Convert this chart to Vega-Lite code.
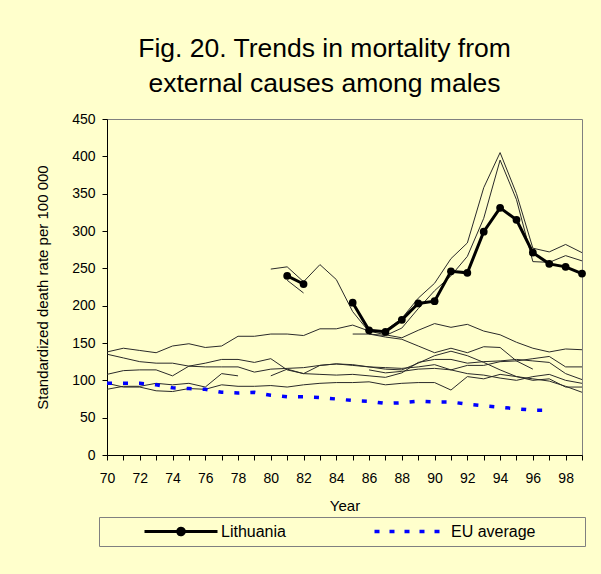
{
  "$schema": "https://vega.github.io/schema/vega-lite/v6.json",
  "width": 475,
  "height": 336,
  "autosize": "none",
  "padding": {"left": 107, "top": 119, "right": 19, "bottom": 119},
  "background": "#FFFFCC",
  "config": {
    "font": "Liberation Sans",
    "view": {"stroke": "#808080", "strokeWidth": 1},
    "axis": {
      "grid": false,
      "domainColor": "black",
      "tickColor": "black",
      "labelColor": "black",
      "titleColor": "black",
      "labelFont": "Liberation Sans",
      "titleFont": "Liberation Sans",
      "titleFontWeight": "normal",
      "labelFontSize": 14,
      "titleFontSize": 15,
      "tickSize": 5,
      "labelFlush": false,
      "labelOverlap": false
    }
  },
  "title": {
    "text": ["Fig. 20. Trends in mortality from", "external causes among males"],
    "fontSize": 26.5,
    "fontWeight": "normal",
    "font": "Liberation Sans",
    "color": "black",
    "anchor": "middle",
    "frame": "group",
    "dx": -20,
    "offset": 15,
    "lineHeight": 35
  },
  "datasets": {
    "others": [
      {"c": "A", "year": 70, "rate": 138}, {"c": "A", "year": 71, "rate": 143}, {"c": "A", "year": 72, "rate": 140}, {"c": "A", "year": 73, "rate": 137}, {"c": "A", "year": 74, "rate": 146}, {"c": "A", "year": 75, "rate": 149}, {"c": "A", "year": 76, "rate": 144}, {"c": "A", "year": 77, "rate": 146}, {"c": "A", "year": 78, "rate": 159}, {"c": "A", "year": 79, "rate": 159}, {"c": "A", "year": 80, "rate": 162}, {"c": "A", "year": 81, "rate": 162}, {"c": "A", "year": 82, "rate": 160}, {"c": "A", "year": 83, "rate": 169}, {"c": "A", "year": 84, "rate": 169}, {"c": "A", "year": 85, "rate": 174}, {"c": "A", "year": 86, "rate": 166}, {"c": "A", "year": 87, "rate": 161}, {"c": "A", "year": 88, "rate": 157}, {"c": "A", "year": 89, "rate": 167}, {"c": "A", "year": 90, "rate": 176}, {"c": "A", "year": 91, "rate": 171}, {"c": "A", "year": 92, "rate": 175}, {"c": "A", "year": 93, "rate": 166}, {"c": "A", "year": 94, "rate": 161}, {"c": "A", "year": 95, "rate": 151}, {"c": "A", "year": 96, "rate": 143}, {"c": "A", "year": 97, "rate": 138}, {"c": "A", "year": 98, "rate": 142}, {"c": "A", "year": 99, "rate": 141},
      {"c": "B", "year": 70, "rate": 135}, {"c": "B", "year": 71, "rate": 130}, {"c": "B", "year": 72, "rate": 125}, {"c": "B", "year": 73, "rate": 123}, {"c": "B", "year": 74, "rate": 123}, {"c": "B", "year": 75, "rate": 119}, {"c": "B", "year": 76, "rate": 118}, {"c": "B", "year": 77, "rate": 118}, {"c": "B", "year": 78, "rate": 118}, {"c": "B", "year": 79, "rate": 111}, {"c": "B", "year": 80, "rate": 115}, {"c": "B", "year": 81, "rate": 116}, {"c": "B", "year": 82, "rate": 117}, {"c": "B", "year": 83, "rate": 120}, {"c": "B", "year": 84, "rate": 122}, {"c": "B", "year": 85, "rate": 120}, {"c": "B", "year": 86, "rate": 118}, {"c": "B", "year": 87, "rate": 115}, {"c": "B", "year": 88, "rate": 114}, {"c": "B", "year": 89, "rate": 123}, {"c": "B", "year": 90, "rate": 133}, {"c": "B", "year": 91, "rate": 139}, {"c": "B", "year": 92, "rate": 133}, {"c": "B", "year": 93, "rate": 124}, {"c": "B", "year": 94, "rate": 114}, {"c": "B", "year": 95, "rate": 105}, {"c": "B", "year": 96, "rate": 102}, {"c": "B", "year": 97, "rate": 99}, {"c": "B", "year": 98, "rate": 92}, {"c": "B", "year": 99, "rate": 84},
      {"c": "C", "year": 70, "rate": 108}, {"c": "C", "year": 71, "rate": 113}, {"c": "C", "year": 72, "rate": 114}, {"c": "C", "year": 73, "rate": 114}, {"c": "C", "year": 74, "rate": 106}, {"c": "C", "year": 75, "rate": 119}, {"c": "C", "year": 76, "rate": 123}, {"c": "C", "year": 77, "rate": 128}, {"c": "C", "year": 78, "rate": 128}, {"c": "C", "year": 79, "rate": 124}, {"c": "C", "year": 80, "rate": 129}, {"c": "C", "year": 81, "rate": 114}, {"c": "C", "year": 82, "rate": 109}, {"c": "C", "year": 83, "rate": 108}, {"c": "C", "year": 84, "rate": 107}, {"c": "C", "year": 85, "rate": 108}, {"c": "C", "year": 86, "rate": 106}, {"c": "C", "year": 87, "rate": 104}, {"c": "C", "year": 88, "rate": 110}, {"c": "C", "year": 89, "rate": 124}, {"c": "C", "year": 90, "rate": 128}, {"c": "C", "year": 91, "rate": 128}, {"c": "C", "year": 92, "rate": 123}, {"c": "C", "year": 93, "rate": 125}, {"c": "C", "year": 94, "rate": 126}, {"c": "C", "year": 95, "rate": 128}, {"c": "C", "year": 96, "rate": 126}, {"c": "C", "year": 97, "rate": 124}, {"c": "C", "year": 98, "rate": 109}, {"c": "C", "year": 99, "rate": 101},
      {"c": "G", "year": 80, "rate": 106}, {"c": "G", "year": 81, "rate": 115}, {"c": "G", "year": 82, "rate": 109}, {"c": "G", "year": 83, "rate": 120}, {"c": "G", "year": 84, "rate": 122}, {"c": "G", "year": 85, "rate": 121}, {"c": "G", "year": 86, "rate": 118}, {"c": "G", "year": 87, "rate": 117}, {"c": "G", "year": 88, "rate": 116}, {"c": "G", "year": 89, "rate": 118}, {"c": "G", "year": 90, "rate": 121}, {"c": "G", "year": 91, "rate": 114}, {"c": "G", "year": 92, "rate": 120}, {"c": "G", "year": 93, "rate": 120}, {"c": "G", "year": 94, "rate": 125}, {"c": "G", "year": 95, "rate": 126}, {"c": "G", "year": 96, "rate": 129}, {"c": "G", "year": 97, "rate": 132}, {"c": "G", "year": 98, "rate": 118}, {"c": "G", "year": 99, "rate": 118},
      {"c": "H", "year": 86, "rate": 114}, {"c": "H", "year": 87, "rate": 110}, {"c": "H", "year": 88, "rate": 112}, {"c": "H", "year": 89, "rate": 115}, {"c": "H", "year": 90, "rate": 116}, {"c": "H", "year": 91, "rate": 114}, {"c": "H", "year": 92, "rate": 109}, {"c": "H", "year": 93, "rate": 107}, {"c": "H", "year": 94, "rate": 103}, {"c": "H", "year": 95, "rate": 100}, {"c": "H", "year": 96, "rate": 105}, {"c": "H", "year": 97, "rate": 108}, {"c": "H", "year": 98, "rate": 100}, {"c": "H", "year": 99, "rate": 96},
      {"c": "E", "year": 70, "rate": 88}, {"c": "E", "year": 71, "rate": 92}, {"c": "E", "year": 72, "rate": 92}, {"c": "E", "year": 73, "rate": 96}, {"c": "E", "year": 74, "rate": 94}, {"c": "E", "year": 75, "rate": 96}, {"c": "E", "year": 76, "rate": 91}, {"c": "E", "year": 77, "rate": 109}, {"c": "E", "year": 78, "rate": 106},
      {"c": "F", "year": 70, "rate": 96}, {"c": "F", "year": 71, "rate": 91}, {"c": "F", "year": 72, "rate": 91}, {"c": "F", "year": 73, "rate": 86}, {"c": "F", "year": 74, "rate": 85}, {"c": "F", "year": 75, "rate": 89}, {"c": "F", "year": 76, "rate": 88}, {"c": "F", "year": 77, "rate": 94}, {"c": "F", "year": 78, "rate": 92}, {"c": "F", "year": 79, "rate": 92}, {"c": "F", "year": 80, "rate": 93}, {"c": "F", "year": 81, "rate": 91}, {"c": "F", "year": 82, "rate": 94}, {"c": "F", "year": 83, "rate": 96}, {"c": "F", "year": 84, "rate": 97}, {"c": "F", "year": 85, "rate": 97}, {"c": "F", "year": 86, "rate": 98}, {"c": "F", "year": 87, "rate": 94}, {"c": "F", "year": 88, "rate": 96}, {"c": "F", "year": 89, "rate": 97}, {"c": "F", "year": 90, "rate": 97}, {"c": "F", "year": 91, "rate": 87}, {"c": "F", "year": 92, "rate": 105}, {"c": "F", "year": 93, "rate": 102}, {"c": "F", "year": 94, "rate": 108}, {"c": "F", "year": 95, "rate": 105}, {"c": "F", "year": 96, "rate": 100}, {"c": "F", "year": 97, "rate": 102}, {"c": "F", "year": 98, "rate": 91}, {"c": "F", "year": 99, "rate": 91},
      {"c": "S1", "year": 80, "rate": 249}, {"c": "S1", "year": 81, "rate": 252}, {"c": "S1", "year": 82, "rate": 232}, {"c": "S1", "year": 83, "rate": 255}, {"c": "S1", "year": 84, "rate": 235}, {"c": "S1", "year": 85, "rate": 192}, {"c": "S1", "year": 86, "rate": 165}, {"c": "S1", "year": 87, "rate": 167}, {"c": "S1", "year": 88, "rate": 183}, {"c": "S1", "year": 89, "rate": 210}, {"c": "S1", "year": 90, "rate": 230}, {"c": "S1", "year": 91, "rate": 263}, {"c": "S1", "year": 92, "rate": 284}, {"c": "S1", "year": 93, "rate": 358}, {"c": "S1", "year": 94, "rate": 405}, {"c": "S1", "year": 95, "rate": 350}, {"c": "S1", "year": 96, "rate": 277}, {"c": "S1", "year": 97, "rate": 272}, {"c": "S1", "year": 98, "rate": 282}, {"c": "S1", "year": 99, "rate": 271},
      {"c": "S2", "year": 81, "rate": 234}, {"c": "S2", "year": 82, "rate": 217},
      {"c": "S3", "year": 86, "rate": 162}, {"c": "S3", "year": 87, "rate": 160}, {"c": "S3", "year": 88, "rate": 170}, {"c": "S3", "year": 89, "rate": 196}, {"c": "S3", "year": 90, "rate": 220}, {"c": "S3", "year": 91, "rate": 240}, {"c": "S3", "year": 92, "rate": 266}, {"c": "S3", "year": 93, "rate": 317}, {"c": "S3", "year": 94, "rate": 395}, {"c": "S3", "year": 95, "rate": 342}, {"c": "S3", "year": 96, "rate": 259}, {"c": "S3", "year": 97, "rate": 258}, {"c": "S3", "year": 98, "rate": 267}, {"c": "S3", "year": 99, "rate": 260},
      {"c": "S5", "year": 85, "rate": 162}, {"c": "S5", "year": 86, "rate": 162}, {"c": "S5", "year": 87, "rate": 158}, {"c": "S5", "year": 88, "rate": 155}, {"c": "S5", "year": 89, "rate": 146}, {"c": "S5", "year": 90, "rate": 137}, {"c": "S5", "year": 91, "rate": 143}, {"c": "S5", "year": 92, "rate": 137}, {"c": "S5", "year": 93, "rate": 145}, {"c": "S5", "year": 94, "rate": 144}, {"c": "S5", "year": 95, "rate": 126}, {"c": "S5", "year": 96, "rate": 115}
    ],
    "lithuania": [
      {"series": "Lithuania", "part": "a", "year": 81, "rate": 240}, {"series": "Lithuania", "part": "a", "year": 82, "rate": 229},
      {"series": "Lithuania", "part": "b", "year": 85, "rate": 204}, {"series": "Lithuania", "part": "b", "year": 86, "rate": 167}, {"series": "Lithuania", "part": "b", "year": 87, "rate": 165}, {"series": "Lithuania", "part": "b", "year": 88, "rate": 181}, {"series": "Lithuania", "part": "b", "year": 89, "rate": 203}, {"series": "Lithuania", "part": "b", "year": 90, "rate": 206}, {"series": "Lithuania", "part": "b", "year": 91, "rate": 246}, {"series": "Lithuania", "part": "b", "year": 92, "rate": 244}, {"series": "Lithuania", "part": "b", "year": 93, "rate": 299}, {"series": "Lithuania", "part": "b", "year": 94, "rate": 331}, {"series": "Lithuania", "part": "b", "year": 95, "rate": 315}, {"series": "Lithuania", "part": "b", "year": 96, "rate": 271}, {"series": "Lithuania", "part": "b", "year": 97, "rate": 256}, {"series": "Lithuania", "part": "b", "year": 98, "rate": 252}, {"series": "Lithuania", "part": "b", "year": 99, "rate": 243}
    ],
    "eu": [
      {"series": "EU average", "year": 70, "rate": 96}, {"series": "EU average", "year": 71, "rate": 96}, {"series": "EU average", "year": 72, "rate": 96}, {"series": "EU average", "year": 73, "rate": 94}, {"series": "EU average", "year": 74, "rate": 90}, {"series": "EU average", "year": 75, "rate": 89}, {"series": "EU average", "year": 76, "rate": 88}, {"series": "EU average", "year": 77, "rate": 84}, {"series": "EU average", "year": 78, "rate": 83}, {"series": "EU average", "year": 79, "rate": 84}, {"series": "EU average", "year": 80, "rate": 80}, {"series": "EU average", "year": 81, "rate": 78}, {"series": "EU average", "year": 82, "rate": 78}, {"series": "EU average", "year": 83, "rate": 77}, {"series": "EU average", "year": 84, "rate": 75}, {"series": "EU average", "year": 85, "rate": 73}, {"series": "EU average", "year": 86, "rate": 72}, {"series": "EU average", "year": 87, "rate": 69}, {"series": "EU average", "year": 88, "rate": 70}, {"series": "EU average", "year": 89, "rate": 72}, {"series": "EU average", "year": 90, "rate": 71}, {"series": "EU average", "year": 91, "rate": 71}, {"series": "EU average", "year": 92, "rate": 68}, {"series": "EU average", "year": 93, "rate": 66}, {"series": "EU average", "year": 94, "rate": 64}, {"series": "EU average", "year": 95, "rate": 62}, {"series": "EU average", "year": 96, "rate": 60}, {"series": "EU average", "year": 97, "rate": 60}
    ]
  },
  "encoding": {
    "x": {
      "field": "year",
      "type": "quantitative",
      "scale": {"domain": [70, 99], "nice": false, "zero": false},
      "axis": {
        "title": "Year",
        "values": [70, 71, 72, 73, 74, 75, 76, 77, 78, 79, 80, 81, 82, 83, 84, 85, 86, 87, 88, 89, 90, 91, 92, 93, 94, 95, 96, 97, 98, 99],
        "labelExpr": "datum.value % 2 === 0 ? datum.label : ''",
        "labelPadding": 11,
        "titlePadding": 13
      }
    },
    "y": {
      "field": "rate",
      "type": "quantitative",
      "scale": {"domain": [0, 450], "nice": false},
      "axis": {
        "title": "Standardized death rate per 100 000",
        "values": [0, 50, 100, 150, 200, 250, 300, 350, 400, 450],
        "labelPadding": 7,
        "titlePadding": 21
      }
    }
  },
  "layer": [
    {
      "data": {"name": "others"},
      "mark": {"type": "line", "strokeWidth": 1, "color": "#2a2a2a"},
      "encoding": {"detail": {"field": "c"}}
    },
    {
      "data": {"name": "eu"},
      "mark": {"type": "line", "strokeWidth": 3.5, "strokeDash": [5, 11], "strokeCap": "butt"},
      "encoding": {
        "color": {
          "field": "series",
          "type": "nominal",
          "scale": {"domain": ["Lithuania", "EU average"], "range": ["black", "#0000FF"]},
          "legend": {
            "orient": "none",
            "legendX": -8,
            "legendY": 398,
            "direction": "horizontal",
            "title": " ",
            "titleOrient": "right",
            "titlePadding": 45,
            "padding": 5,
            "strokeColor": "#808080",
            "fillColor": "#FFFFCC",
            "symbolType": "stroke",
            "symbolSize": 5329,
            "symbolStrokeWidth": 3,
            "symbolOffset": 69,
            "clipHeight": 19,
            "labelFont": "Liberation Sans",
            "labelFontSize": 16,
            "labelColor": "black",
            "labelOffset": 32,
            "columnPadding": 48,
            "encode": {
              "symbols": {
                "update": {
                  "shape": {"signal": "datum.value === 'Lithuania' ? 'M-1,0L1,0M0.09,0A0.09,0.09,0,1,1,-0.09,0A0.09,0.09,0,1,1,0.09,0Z' : 'stroke'"},
                  "fill": {"signal": "datum.value === 'Lithuania' ? 'black' : 'transparent'"},
                  "stroke": {"signal": "datum.value === 'Lithuania' ? 'black' : '#0000FF'"},
                  "strokeDash": {"signal": "datum.value === 'Lithuania' ? [1, 0] : [5, 10]"},
                  "strokeWidth": {"signal": "datum.value === 'Lithuania' ? 3 : 3.5"},
                  "opacity": {"value": 1}
                }
              }
            }
          }
        }
      }
    },
    {
      "data": {"name": "lithuania"},
      "mark": {"type": "line", "strokeWidth": 3, "point": {"filled": true, "size": 60}},
      "encoding": {
        "color": {"field": "series", "type": "nominal"},
        "detail": {"field": "part"}
      }
    }
  ]
}
